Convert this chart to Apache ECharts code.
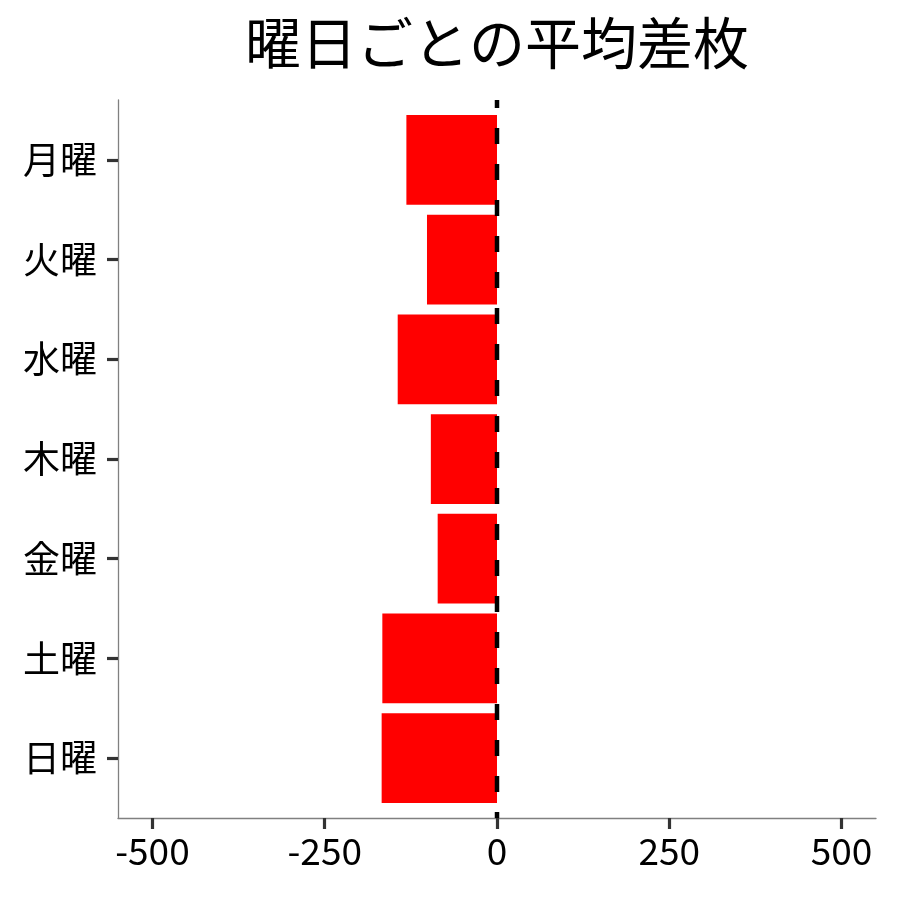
<!DOCTYPE html>
<html>
<head>
<meta charset="utf-8">
<script src="https://cdn.jsdelivr.net/npm/echarts@6/dist/echarts.min.js"></script>
<style>
html,body{margin:0;padding:0;background:#fff;}
#chart{width:900px;height:900px;}
</style>
</head>
<body>
<div id="chart"></div>
<script>
const titleText = '曜日ごとの平均差枚';
const days = ['月曜', '火曜', '水曜', '木曜', '金曜', '土曜', '日曜'];
const avgDiff = [-131.5, -101.6, -144.1, -96.0, -86.1, -166.4, -167.4];
const xTicks = [-500, -250, 0, 250, 500];
const xRange = [-550, 550];
const refLineX = 0;

const FONT = '"Noto Sans CJK JP", "Noto Sans", sans-serif';
const dayIdx = days.map((d, i) => i);
const barData = days.map((d, i) => [avgDiff[i], i]);

const chart = echarts.init(document.getElementById('chart'), null, {renderer: 'canvas'});
chart.setOption({
  backgroundColor: '#ffffff',
  animation: false,
  title: {
    text: titleText,
    left: 497,
    top: 15,
    textAlign: 'center',
    padding: 0,
    textStyle: {fontFamily: FONT, fontSize: 56, fontWeight: 'normal', color: '#000'}
  },
  grid: {left: 118, right: 24, top: 100, bottom: 82, containLabel: false},
  xAxis: {
    type: 'value',
    min: xRange[0],
    max: xRange[1],
    splitLine: {show: false},
    axisLine: {show: true, onZero: false, lineStyle: {color: '#808080', width: 1.3}},
    axisTick: {show: true, length: 11, customValues: xTicks, lineStyle: {color: '#333', width: 3.2}},
    axisLabel: {customValues: xTicks, margin: 14, fontFamily: FONT, fontSize: 37, color: '#000'}
  },
  yAxis: {
    type: 'value',
    min: -0.6,
    max: days.length - 0.4,
    inverse: true,
    splitLine: {show: false},
    axisLine: {show: true, onZero: false, lineStyle: {color: '#808080', width: 1.3}},
    axisTick: {show: true, length: 11, customValues: dayIdx, lineStyle: {color: '#333', width: 3.2}},
    axisLabel: {customValues: dayIdx, margin: 21, fontFamily: FONT, fontSize: 37, color: '#000',
      formatter: v => days[Math.round(v)]}
  },
  series: [
    {
      type: 'custom',
      data: barData,
      encode: {x: 0, y: 1},
      renderItem: function (params, api) {
        const v = api.value(0), i = api.value(1);
        const p0 = api.coord([0, i]);
        const p1 = api.coord([v, i]);
        const h = api.size([0, 0.9])[1];
        return {
          type: 'rect',
          shape: {x: Math.min(p0[0], p1[0]), y: p0[1] - h / 2, width: Math.abs(p1[0] - p0[0]), height: h},
          style: {fill: '#ff0000'}
        };
      },
      z: 2
    },
    {
      type: 'line',
      data: [[refLineX, -0.6], [refLineX, days.length - 0.4]],
      symbol: 'none',
      lineStyle: {color: '#000', width: 4.5, type: [16, 20], dashOffset: 8},
      z: 5
    }
  ]
});
</script>
</body>
</html>
